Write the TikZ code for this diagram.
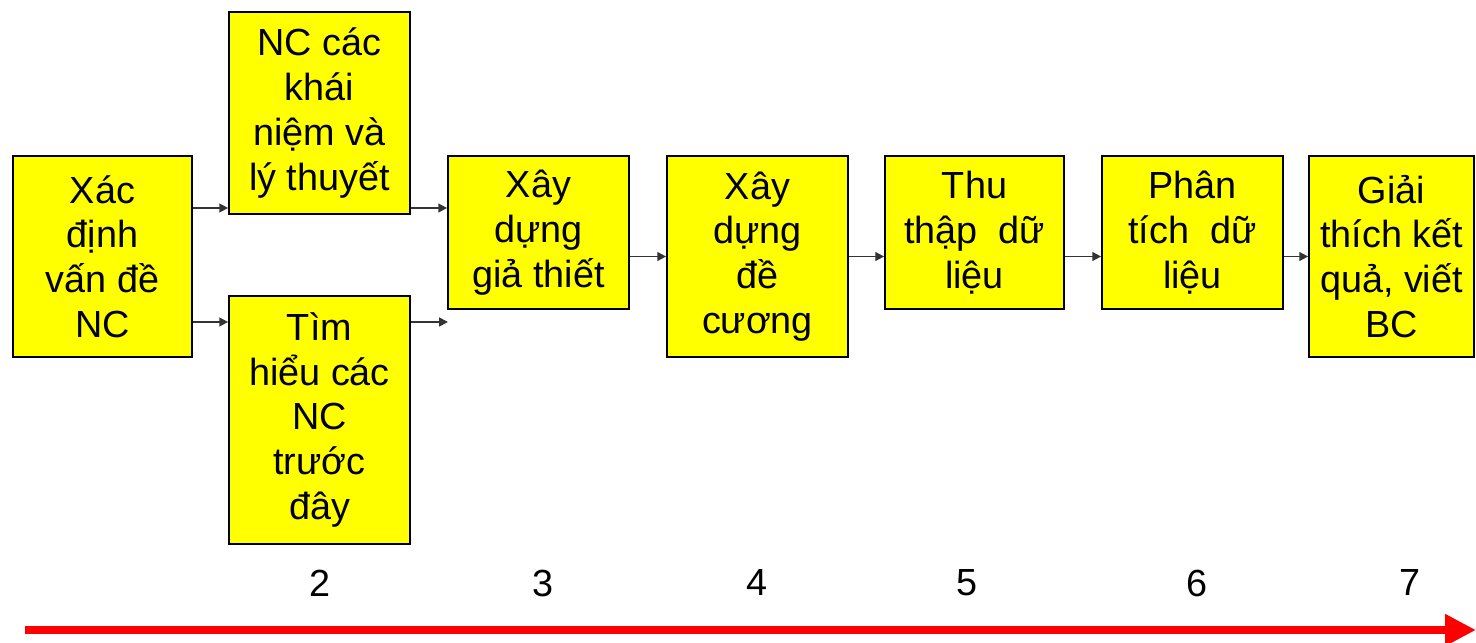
\documentclass[tikz,border=0pt]{standalone}
\usepackage{fontspec}
\setmainfont{Liberation Sans}
\usetikzlibrary{arrows.meta}
\definecolor{boxyellow}{RGB}{255,255,0}
\definecolor{linered}{RGB}{255,0,0}

\begin{document}
\begin{tikzpicture}[
	stepbox/.style={draw=black, line width=1pt, fill=boxyellow, align=center, inner sep=0pt,
		font=\fontsize{21.5}{25.5}\selectfont},
	flow/.style={draw=black!80, line width=1pt, -{Triangle[length=5pt,width=5pt]}},
	num/.style={font=\fontsize{21.5}{25.5}\selectfont},
	]
	%%%%% START %%%%%
	\useasboundingbox (0, 0) rectangle (29.52, 12.84);
	
	\node[stepbox, minimum width=3.58cm, minimum height=4.02cm] (xac) at (2.05, 7.71) {Xác\\định\\vấn đề\\NC};
	\node[stepbox, minimum width=3.62cm, minimum height=4.04cm] (khainiem) at (6.39, 10.58) {NC các\\khái\\niệm và\\lý thuyết};
	\node[stepbox, minimum width=3.62cm, minimum height=4.96cm] (timhieu) at (6.39, 4.44) {Tìm\\hiểu các\\NC\\trước\\đây};
	\node[stepbox, minimum width=3.62cm, minimum height=3.06cm] (giathiet) at (10.77, 8.19) {Xây\\dựng\\giả thiết};
	\node[stepbox, minimum width=3.62cm, minimum height=4.02cm] (decuong) at (15.15, 7.71) {Xây\\dựng\\đề\\cương};
	\node[stepbox, minimum width=3.58cm, minimum height=3.06cm] (thuthap) at (19.49, 8.19) {Thu\\thập\ \ dữ\\liệu};
	\node[stepbox, minimum width=3.62cm, minimum height=3.06cm] (phantich) at (23.85, 8.19) {Phân\\tích\ \ dữ\\liệu};
	\node[stepbox, minimum width=3.30cm, minimum height=4.02cm] (giaithich) at (27.83, 7.71) {Giải\\thích kết\\quả, viết\\BC};
	
	\coordinate (upper) at (0, 8.68);
	\coordinate (lower) at (0, 6.40);
	\coordinate (loose) at (8.96, 6.40);
	
	\draw[flow] (xac.east |- upper) -- (khainiem.west |- upper);
	\draw[flow] (xac.east |- lower) -- (timhieu.west |- lower);
	\draw[flow] (khainiem.east |- upper) -- (giathiet.west |- upper);
	\draw[flow] (timhieu.east |- loose) -- (loose);
	\draw[flow] (giathiet.east |- decuong.west) -- (decuong.west);
	\draw[flow] (decuong.east) -- (thuthap.west |- decuong.east);
	\draw[flow] (thuthap.east |- decuong.east) -- (phantich.west |- decuong.east);
	\draw[flow] (phantich.east |- giaithich.west) -- (giaithich.west);
	
	\node[num] (n2) at (6.40, 1.18) {2};
	\node[num] (n3) at (10.86, 1.18) {3};
	\node[num] (n4) at (15.14, 1.18) {4};
	\node[num] (n5) at (19.34, 1.18) {5};
	\node[num] (n6) at (23.94, 1.18) {6};
	\node[num] (n7) at (28.20, 1.18) {7};
	
	\coordinate (tstart) at (0.50, 0.24);
	\coordinate (tend) at (29.52, 0.24);
	\draw[linered, line width=4.5pt, -{Triangle[length=0.62cm,width=0.6cm]}] (tstart) -- (tend);
	
	%%%%% END %%%%%
\end{tikzpicture}
\end{document}
